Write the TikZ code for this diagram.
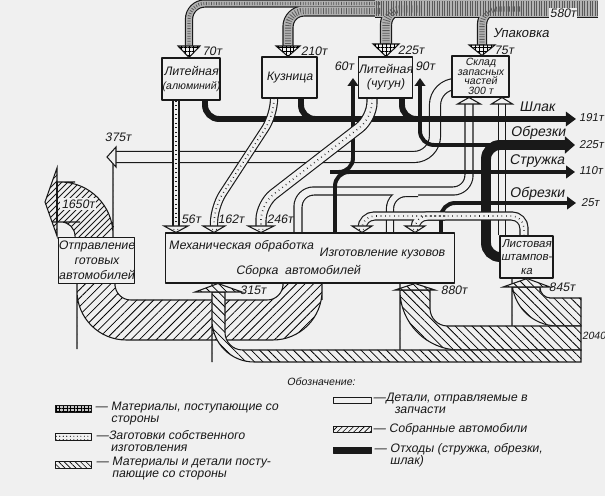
\documentclass[tikz,border=0pt]{standalone}
\usepackage{fontspec}
\setmainfont{Liberation Sans}
\newfontfamily\drawfont{Liberation Sans}[FakeSlant=0.18]
\usetikzlibrary{arrows.meta, patterns.meta}
\pgfdeclarelayer{back}
\pgfdeclarelayer{flows}
\pgfsetlayers{back,flows,main}
\definecolor{paper}{gray}{0.94}
\definecolor{ink}{gray}{0.1}
\newcommand\pxu{0.567pt}
\newcommand\flowscale{0.567pt}
\newcommand\flowextra{0pt}
\newcommand\flowcol{ink}
\newcommand\headv[4]{\draw[#1] (#2) ++(-#4,0) -- ++(2*#4,0) -- (#3) -- cycle;}
\newcommand\headh[4]{\draw[#1] (#2) ++(0,-#4) -- ++(0,2*#4) -- (#3) -- cycle;}
% outline of the shipped cars above their box
\newcommand\upcar{(57,168) -- (57,182) -- (75,182) [rounded corners=30] -- (113,182) -- (113,216)
  [rounded corners=8] -- (113,250) -- (75,250) -- (75,222) -- (66,222) [sharp corners] -- (57,222)
  -- (57,236) -- (45,202) -- cycle}
\tikzset{
  unitbox/.style = {draw=ink, fill=paper, line width=0.7pt, align=center, inner sep=0pt,
                    font=\fontsize{7}{7.8}\selectfont\drawfont, text=ink},
  lbl/.style = {inner sep=0.5pt, font=\fontsize{7}{7}\selectfont\drawfont, text=ink},
  tag/.style = {lbl, font=\fontsize{8}{8}\selectfont\drawfont},
  num/.style = {lbl, anchor=west, font=\fontsize{6.5}{6.5}\selectfont\drawfont},
  flow/.style = {line width=#1*\flowscale+\flowextra, draw=\flowcol, rounded corners=9},
  waste/.style = {line width=#1*\pxu, draw=ink, rounded corners=8},
  endtip/.style 2 args = {-{Triangle[length=#1, width=#2]}},
  car/.style = {draw=ink, line width=0.6pt, preaction={fill=paper},
                pattern={Lines[angle=45, distance=3.4pt, line width=0.45pt]}},
  feed/.style = {draw=ink, line width=0.6pt, preaction={fill=paper},
                 pattern={Lines[angle=-45, distance=3.4pt, line width=0.45pt]}},
  openhead/.style = {draw=ink, line width=0.6pt, fill=paper},
  mathead/.style = {openhead, postaction={pattern={Hatch[distance=2.2pt, line width=0.35pt]}}},
  blankhead/.style = {openhead, postaction={pattern={Dots[distance=2.2pt, radius=0.3pt]}}},
  swatch/.style = {draw=ink, line width=0.5pt, minimum width=37*\pxu,
                   minimum height=7*\pxu, inner sep=0pt},
  legtext/.style = {lbl, anchor=north west, align=left, font=\fontsize{7}{6.9}\selectfont\drawfont},
}
% bands of materials from outside (crosshatched)
\newcommand\matflows{%
  \draw[flow=17] (matsrc) -- (375,8.5);
  \draw[flow=6]  (380,3.5) -- (189,3.5) -- (in70);
  \draw[flow=9]  (380,11) -- (288,11) -- (in210);
  \draw[flow=10] (420,9) -- (386,9) -- (in225);
  \draw[flow=8]  (520,9) -- (482,9) -- (in75);
}
% bands of own blanks (dotted)
\newcommand\blankflows{%
  \draw[flow=5] (176,0 |- litAl.south) -- (b56);
  \draw[flow=6] (274,0 |- kuz.south) -- (274,115) -- (214,207) -- (b162);
  \draw[flow=9] (372,0 |- litCh.south) -- (372,118) -- (261,204) -- (b246);
  \draw[flow=7, rounded corners=7] (524,0 |- list.north) -- (524,216) -- (362,216) -- (b362);
  \draw[flow=7, rounded corners=7] (445,216) -- (415,216) -- (b415);
}
\begin{document}
\begin{tikzpicture}[x=0.02cm, y=-0.02cm, line join=round]
\useasboundingbox (0,0) rectangle (605,496);
\begin{pgfonlayer}{back}
\fill[paper] (0,0) rectangle (605,496);
\end{pgfonlayer}

% ----- UNITS -----
\node[unitbox, minimum width=58*\pxu, minimum height=42*\pxu] (litAl) at (191,79)
  {Литейная\\{\fontsize{6}{7}\selectfont(алюминий)}};
\node[unitbox, minimum width=55*\pxu, minimum height=41*\pxu] (kuz) at (289.5,77.5) {Кузница};
\node[unitbox, minimum width=53*\pxu, minimum height=41*\pxu] (litCh) at (385.5,77.5) {Литейная\\(чугун)};
\node[unitbox, minimum width=57*\pxu, minimum height=41*\pxu,
      font=\fontsize{6}{5.5}\selectfont\drawfont] (sklad) at (480.5,76.5) {Склад\\запасных\\частей\\300 т};
\node[unitbox, minimum width=290*\pxu, minimum height=50*\pxu] (main) at (310,258) {};
\node[unitbox, minimum width=77*\pxu, minimum height=46*\pxu,
      font=\fontsize{7}{8.5}\selectfont\drawfont] (otpr) at (96.5,260.5) {Отправление\\готовых\\автомобилей};
\node[unitbox, minimum width=53*\pxu, minimum height=42*\pxu,
      font=\fontsize{6.5}{7.5}\selectfont\drawfont] (list) at (526.5,257) {Листовая\\штампов-\\ка};
\node[lbl] (mech) at (241,246) {Механическая обработка};
\node[lbl] (body) at (382,254) {Изготовление кузовов};
\node[lbl] (asm) at (298,271) {Сборка\ \ автомобилей};

% ----- FREE ENDS -----
\coordinate (matsrc) at (598,8.5);
\coordinate (in70) at (189,46);
\coordinate (in210) at (288,46);
\coordinate (in225) at (386,44);
\coordinate (in75) at (482,45);
\coordinate (b56) at (176,226);
\coordinate (b162) at (214,226);
\coordinate (b246) at (261,226);
\coordinate (b362) at (362,226);
\coordinate (b415) at (415,226);
\coordinate (h375) at (116,157);
\coordinate (hA) at (469,104);
\coordinate (hL) at (502,104);
\coordinate (slag) at (576,119);
\coordinate (chips) at (575,172);
\coordinate (to60) at (353,78);
\coordinate (scrap) at (575,145);
\coordinate (to90) at (420,78);
\coordinate (scrap2) at (576,203);

\begin{pgfonlayer}{flows}
% assembled cars
\draw[car] (300,270) -- (322,270) -- (322,300) [rounded corners=28] -- (322,340) -- (200,340)
  -- (77,340) -- (77,300) [rounded corners=9] -- (77,270) -- (115,270) -- (115,300) -- (283,300)
  -- (283,270) [sharp corners] -- cycle;
\draw[openhead] \upcar;
\begin{scope}
  \clip \upcar;
  \foreach \k in {0,6,...,150} \draw[ink, line width=0.45pt] (20,170+\k) -- ++(110,-110);
\end{scope}
\draw[ink, line width=0.6pt] (57,182) -- (57,222);
% materials and parts from outside
\draw[feed] (527,287) -- (540,287) -- (540,292) [rounded corners=6] -- (540,298) -- (560,298)
  [sharp corners] -- (581,298) -- (581,326) -- (560,326) [rounded corners=26] -- (512,326)
  -- (512,296) [sharp corners] -- (512,287) -- cycle;
\draw[feed] (415,290) -- (430,290) -- (430,305) [rounded corners=10] -- (430,326) -- (480,326)
  [sharp corners] -- (581,326) -- (581,350) -- (480,350) [rounded corners=34] -- (400,350)
  -- (400,300) [sharp corners] -- (400,290) -- cycle;
\draw[feed] (218,292) -- (225,292) -- (225,320) [rounded corners=10] -- (225,350) -- (480,350)
  [sharp corners] -- (581,350) -- (581,362) -- (480,362) [rounded corners=24] -- (212,362)
  -- (212,320) [sharp corners] -- (212,292) -- cycle;
\draw[feed] (195,292) -- (242,292) -- (218,0 |- main.south) -- cycle;
\draw[feed] (395,290) -- (435,290) -- (415,0 |- main.south) -- cycle;
\draw[feed] (503,287) -- (550,287) -- (527,0 |- list.south) -- cycle;

% parts for spares
\foreach \flowextra/\flowcol in {1.3pt/ink, 0pt/paper} {
  \draw[flow=10, rounded corners=12] (sklad.west |- 0,84) -- (435,84) -- (435,157) -- (h375);
  \draw[flow=7] (298,0 |- main.north) -- (298,191) -- (469,191) -- (hA);
  \draw[flow=6] (390,0 |- main.north) -- (390,193) -- (418,193);
  \draw[flow=6] (502,0 |- list.north) -- (hL);
}
\headh{openhead}{h375}{107,157}{10}
\headv{openhead}{hA}{hA |- sklad.south}{11.5}
\headv{openhead}{hL}{hL |- sklad.south}{10.5}

% waste
\draw[waste=6, endtip={5.7pt}{8pt}] (205,0 |- litAl.south) -- (205,119) -- (slag);
\draw[waste=6] (301,0 |- kuz.south) -- (301,119) -- (330,119);
\draw[waste=6] (402,0 |- litCh.south) -- (402,119) -- (432,119);
\draw[waste=4, endtip={5pt}{7pt}] (335,0 |- main.north) -- (335,172) -- (chips);
\draw[waste=4, endtip={4.5pt}{6pt}] (330,172) -- (353,172) -- (to60);
\draw[waste=10, endtip={5.7pt}{9.5pt}] (list.west) -- (486,0 |- list.west) -- (486,145) -- (scrap);
\draw[waste=4, endtip={4.5pt}{6pt}] (490,145) -- (420,145) -- (to90);
\draw[waste=4, endtip={5pt}{7pt}] (441,0 |- main.north) -- (441,203) -- (scrap2);

% own blanks
\foreach \flowextra/\flowcol in {1.3pt/ink, 0pt/paper} {\blankflows}
\begin{scope}[dash pattern=on 0.35pt off 2.2pt]
  \def\flowscale{0pt}\def\flowextra{0.9pt}\def\flowcol{ink}
  \blankflows
\end{scope}
\headv{blankhead}{b56}{b56 |- main.north}{12}
\headv{blankhead}{b162}{b162 |- main.north}{11}
\headv{blankhead}{b246}{b246 |- main.north}{13}
\headv{blankhead}{b362}{b362 |- main.north}{10}
\headv{blankhead}{b415}{b415 |- main.north}{10}

% materials from outside
\foreach \flowextra/\flowcol in {1.3pt/ink, 0pt/black!30} {\matflows}
\begin{scope}[dash pattern=on 0.45pt off 1pt]
  \def\flowextra{-1.6pt}\def\flowcol{black!65}
  \matflows
\end{scope}
\headv{mathead}{in70}{in70 |- litAl.north}{11}
\headv{mathead}{in210}{in210 |- kuz.north}{12}
\headv{mathead}{in225}{in225 |- litCh.north}{13}
\headv{mathead}{in75}{in75 |- sklad.north}{13}
\end{pgfonlayer}

% ----- LABELS -----
\node[lbl] (l70) at (212,51) {70т};
\node[lbl] (l210) at (314,51) {210т};
\node[lbl] (l225) at (411,50) {225т};
\node[lbl] (l75) at (504,50) {75т};
\node[lbl, font=\fontsize{7.5}{7.5}\selectfont\drawfont] (lpack) at (521,33) {Упаковка};
\node[lbl, fill=paper] (l580) at (563,13) {580т};
\node[lbl] (l60) at (344,66) {60т};
\node[lbl] (l90) at (425,66) {90т};
\node[tag] (lslag) at (537,107) {Шлак};
\node[num] (l191) at (578,118) {191т};
\node[tag] (lcut1) at (538,133) {Обрезки};
\node[num] (l225b) at (578,145) {225т};
\node[tag] (lchip) at (537,161) {Стружка};
\node[num] (l110) at (578,171) {110т};
\node[tag] (lcut2) at (537,194) {Обрезки};
\node[num] (l25) at (580,203) {25т};
\node[lbl] (l375) at (118,137) {375т};
\node[lbl, fill=paper, inner sep=1pt] (l1650) at (78,204) {1650т};
\node[lbl] (l56) at (191,219) {56т};
\node[lbl] (l162) at (231,219) {162т};
\node[lbl] (l246) at (280,219) {246т};
\node[lbl] (l315) at (253,290) {315т};
\node[lbl] (l880) at (454,290) {880т};
\node[lbl] (l845) at (562,287) {845т};
\node[num, font=\fontsize{6}{6}\selectfont\drawfont] (l2040) at (581,336) {2040};

% ----- LEGEND -----
\node[lbl, font=\fontsize{6}{6}\selectfont\drawfont] (legend) at (321,382) {Обозначение:};
\node[swatch, preaction={fill=black!22}, pattern={Hatch[distance=2pt, line width=0.3pt]}] (key1) at (73.5,408.5) {};
\node[legtext] (txt1) at (94,401) {— Материалы, поступающие со\\\hphantom{— }стороны};
\node[swatch, pattern={Dots[distance=2pt, radius=0.3pt]}] (key2) at (73.5,436.5) {};
\node[legtext] (txt2) at (95,429) {—Заготовки собственного\\\hphantom{—\,}изготовления};
\node[swatch, pattern={Lines[angle=-45, distance=2.2pt, line width=0.35pt]}] (key3) at (73.5,465) {};
\node[legtext] (txt3) at (95,456) {— Материалы и детали посту-\\\hphantom{— }пающие со стороны};
\node[swatch, fill=paper, minimum width=39*\pxu, minimum height=6*\pxu] (key4) at (352.5,400.5) {};
\node[legtext] (txt4) at (372,392) {—Детали, отправляемые в\\\hspace*{12pt}запчасти};
\node[swatch, pattern={Lines[angle=45, distance=2.2pt, line width=0.35pt]},
      minimum width=39*\pxu, minimum height=6*\pxu] (key5) at (352.5,429.5) {};
\node[legtext] (txt5) at (372,422) {— Собранные автомобили};
\node[swatch, fill=ink, minimum width=39*\pxu, minimum height=6*\pxu] (key6) at (352.5,450) {};
\node[legtext] (txt6) at (373,442) {— Отходы (стружка, обрезки,\\\hphantom{— }шлак)};
\end{tikzpicture}
\end{document}
